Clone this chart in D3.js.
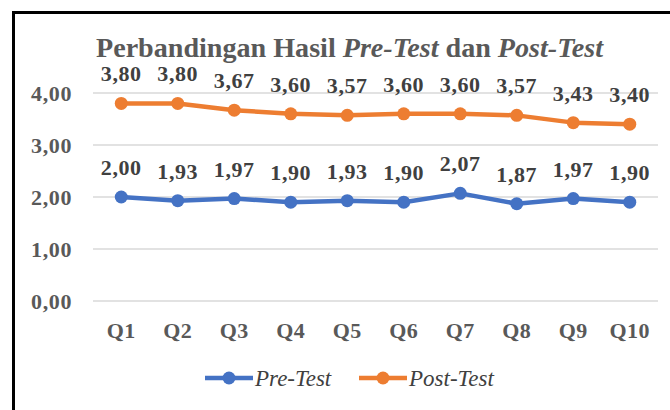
<!DOCTYPE html>
<html>
<head>
<meta charset="utf-8">
<script src="https://cdn.jsdelivr.net/npm/d3@7"></script>
<style>
  body { margin: 0; background: #fff; }
  svg { display: block; font-family: "Liberation Serif", "Times New Roman", serif; }
</style>
</head>
<body>
<div id="chart"></div>
<script>
// Data
const categories = ['Q1', 'Q2', 'Q3', 'Q4', 'Q5', 'Q6', 'Q7', 'Q8', 'Q9', 'Q10'];
const preTest = [2.00, 1.93, 1.97, 1.90, 1.93, 1.90, 2.07, 1.87, 1.97, 1.90];
const postTest = [3.80, 3.80, 3.67, 3.60, 3.57, 3.60, 3.60, 3.57, 3.43, 3.40];
const yTicks = [0, 1, 2, 3, 4];

const W = 670, H = 410;
const serif = '"Liberation Serif", "Times New Roman", serif';
const fmt = v => d3.format('.2f')(v).replace('.', ',');

const svg = d3.select('#chart').append('svg')
  .attr('width', W).attr('height', H);

svg.append('rect').attr('width', W).attr('height', H).attr('fill', '#fff');

// frame (only left and top edges are in view)
svg.append('path')
  .attr('d', 'M13.5,410 V12.5 H670')
  .attr('fill', 'none').attr('stroke', '#000').attr('stroke-width', 3);

const x = d3.scaleBand().domain(categories).range([93, 658]);
const y = d3.scaleLinear().domain([0, 4]).range([301, 93]);
const cx = d => x(d) + x.bandwidth() / 2;

// grid
svg.append('g').selectAll('line')
  .data(yTicks).join('line')
  .attr('x1', 93).attr('x2', 658)
  .attr('y1', d => y(d)).attr('y2', d => y(d))
  .attr('stroke', '#d9d9d9').attr('stroke-width', 1.5);

// y axis labels
const yAxis = svg.append('g')
  .attr('transform', 'translate(72,0)')
  .call(d3.axisLeft(y).tickValues(yTicks).tickFormat(fmt).tickSize(0).tickPadding(0));
yAxis.select('.domain').remove();
yAxis.selectAll('text')
  .attr('font-family', serif)
  .attr('font-size', 22).attr('font-weight', 'bold')
  .attr('letter-spacing', 0.6)
  .attr('fill', '#595959').attr('dy', '0.33em');

// x axis labels
const xAxis = svg.append('g')
  .attr('transform', 'translate(0,338)')
  .call(d3.axisBottom(x).tickSize(0).tickPadding(0));
xAxis.select('.domain').remove();
xAxis.selectAll('text')
  .attr('font-family', serif)
  .attr('font-size', 22).attr('font-weight', 'bold')
  .attr('letter-spacing', 0.5)
  .attr('fill', '#595959').attr('dy', 0);

const series = [
  { name: 'Pre-Test', values: preTest, color: '#4472c4' },
  { name: 'Post-Test', values: postTest, color: '#ed7d31' }
];

const line = d3.line().x(d => cx(d.c)).y(d => y(d.v));

series.forEach(s => {
  const pts = categories.map((c, i) => ({ c, v: s.values[i] }));
  const g = svg.append('g');
  g.append('path').datum(pts)
    .attr('d', line)
    .attr('fill', 'none').attr('stroke', s.color)
    .attr('stroke-width', 4.5).attr('stroke-linejoin', 'round');
  g.selectAll('circle').data(pts).join('circle')
    .attr('cx', d => cx(d.c)).attr('cy', d => y(d.v))
    .attr('r', 6.5).attr('fill', s.color);
  g.selectAll('text').data(pts).join('text')
    .attr('x', d => cx(d.c)).attr('y', d => y(d.v) - 22)
    .attr('text-anchor', 'middle')
    .attr('font-family', serif)
    .attr('font-size', 22).attr('font-weight', 'bold')
    .attr('letter-spacing', 0.6)
    .attr('fill', '#404040')
    .text(d => fmt(d.v));
});

// title
const title = svg.append('text')
  .attr('x', 96).attr('y', 57)
  .attr('font-family', serif)
  .attr('font-size', 28).attr('font-weight', 'bold')
  .attr('textLength', 507).attr('lengthAdjust', 'spacingAndGlyphs')
  .attr('fill', '#595959');
title.append('tspan').text('Perbandingan Hasil ');
title.append('tspan').attr('font-style', 'italic').text('Pre-Test');
title.append('tspan').text(' dan ');
title.append('tspan').attr('font-style', 'italic').text('Post-Test');

// legend
const legend = svg.append('g').attr('transform', 'translate(0,378)');
const legendX = [205, 359];
series.forEach((s, i) => {
  const g = legend.append('g').attr('transform', `translate(${legendX[i]},0)`);
  g.append('line').attr('x1', 0).attr('x2', 48)
    .attr('stroke', s.color).attr('stroke-width', 4.5);
  g.append('circle').attr('cx', 24).attr('r', 6.5).attr('fill', s.color);
  g.append('text').attr('x', 50).attr('dy', '0.35em')
    .attr('font-family', serif)
    .attr('font-size', 23).attr('font-style', 'italic')
    .attr('fill', '#404040')
    .text(s.name);
});
</script>
</body>
</html>
